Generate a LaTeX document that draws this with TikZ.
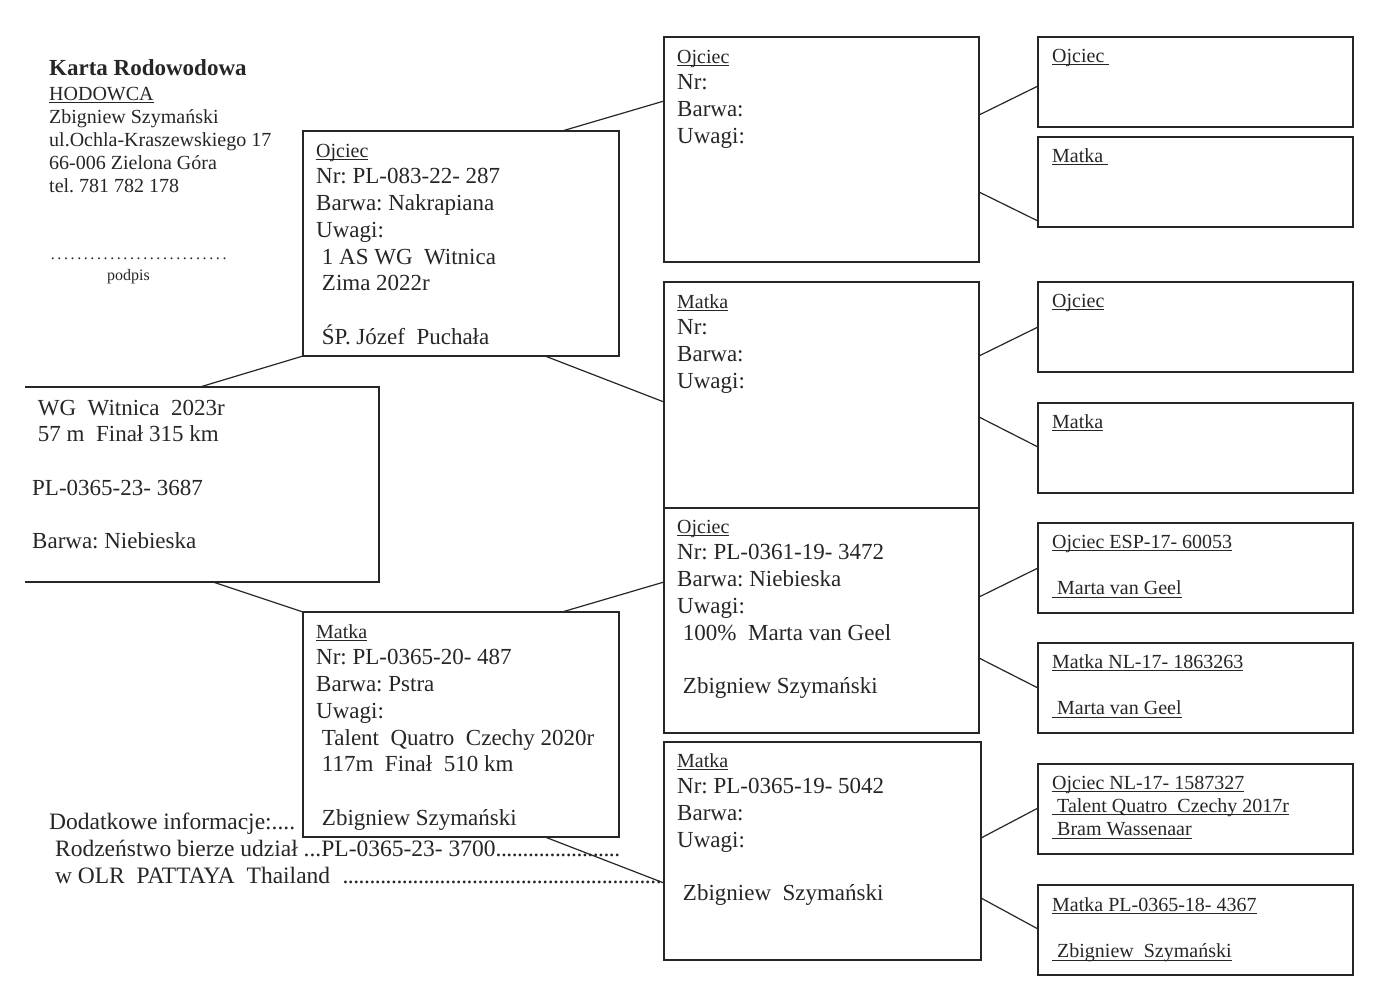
\documentclass[tikz,border=0pt]{standalone}
\usepackage{fontspec}
\setmainfont{Liberation Serif}
\frenchspacing
\newcommand\undl[1]{\setbox0=\hbox{#1}\rlap{\rule[-2.6pt]{\wd0}{0.9pt}}\box0}
\newcommand\dotrun[2]{\hbox to #1{\cleaders\hbox to #2{\hss.\hss}\hfill}}
\newcommand\dotfl[1]{\cleaders\hbox to #1{\hss.\hss}\hfill}
\colorlet{ink}{black!85}
\tikzset{
  box/.style={draw=ink, line width=1.3pt, fill=white, inner sep=0pt, outer sep=0pt, anchor=north west},
  ghost/.style={inner sep=0pt, outer sep=0pt, anchor=north west},
  txt/.style={anchor=north west, inner sep=0pt, align=left, text=ink, font=\fontsize{23}{26.7}\selectfont},
  small/.style={txt, font=\fontsize{20}{23.3}\selectfont},
  head/.style={txt, font=\fontsize{20}{23}\selectfont},
  conn/.style={draw=ink, line width=1.2pt},
}
\newcommand\ttl[1]{{\fontsize{20}{23}\selectfont\undl{#1}}}
\begin{document}
\begin{tikzpicture}[x=1pt,y=-1pt]
\useasboundingbox[fill=white] (0,0) rectangle (1400,989);

% header
\node[head] (hdr) at (49,50) {\rule{0pt}{25pt}{\bfseries\fontsize{23}{25}\selectfont Karta Rodowodowa}\\[2pt]
\undl{HODOWCA}\\
Zbigniew Szymański\\
ul.Ochla-Kraszewskiego 17\\
66-006 Zielona Góra\\
tel. 781 782 178};
\node[anchor=base west, inner sep=0pt, text=ink, font=\fontsize{16}{18}\selectfont] (sig) at (49,259) {\dotrun{179pt}{6.6pt}};
\node[anchor=base west, inner sep=0pt, text=ink, font=\fontsize{16}{18}\selectfont] (podpis) at (107,280) {podpis};

% additional info
\node[txt, font=\fontsize{23.5}{27}\selectfont] (info) at (49,807) {\rule{0pt}{22pt}\makebox[251pt][l]{Dodatkowe informacje:....}\\
\makebox[571pt][l]{\ Rodzeństwo bierze udział ...PL-0365-23- 3700\dotfl{5.4pt}}\\
\makebox[613pt][l]{\ w OLR\ \ PATTAYA\ \ Thailand\ \ \dotfl{5.4pt}}};

% subject
\node[ghost, minimum width=354pt, minimum height=195pt] (s) at (25,387) {};
\draw[conn] (s.north west) -- (s.north east) -- (s.south east) -- (s.south west);
\node[txt] (st) at ([xshift=7pt]s.north west) {\rule{0pt}{28pt}\ WG\ \ Witnica\ \ 2023r\\
\ 57 m\ \ Finał 315 km\\[26.7pt]
PL-0365-23- 3687\\[26.7pt]
Barwa: Niebieska};

% generation 1
\node[box, minimum width=316pt, minimum height=225pt] (f) at (303,131) {};
\node[txt] (ft) at ([xshift=13pt]f.north west) {\rule{0pt}{26pt}\ttl{Ojciec}\\
Nr: PL-083-22- 287\\
Barwa: Nakrapiana\\
Uwagi:\\
\ 1 AS WG\ \ Witnica\\
\ Zima 2022r\\[26.7pt]
\ ŚP. Józef\ \ Puchała};

\node[box, minimum width=316pt, minimum height=225pt] (m) at (303,612) {};
\node[txt] (mt) at ([xshift=13pt]m.north west) {\rule{0pt}{26pt}\ttl{Matka}\\
Nr: PL-0365-20- 487\\
Barwa: Pstra\\
Uwagi:\\
\ Talent\ \ Quatro\ \ Czechy 2020r\\
\ 117m\ \ Finał\ \ 510 km\\[26.7pt]
\ Zbigniew Szymański};

% generation 2
\node[box, minimum width=315pt, minimum height=225pt] (ff) at (664,37) {};
\node[txt] (fft) at ([xshift=13pt]ff.north west) {\rule{0pt}{26pt}\ttl{Ojciec}\\
Nr:\\
Barwa:\\
Uwagi:};

\node[box, minimum width=315pt, minimum height=226pt] (fm) at (664,282) {};
\node[txt] (fmt) at ([xshift=13pt]fm.north west) {\rule{0pt}{26pt}\ttl{Matka}\\
Nr:\\
Barwa:\\
Uwagi:};

\node[box, minimum width=315pt, minimum height=225pt] (mf) at (664,508) {};
\node[txt] (mft) at ([xshift=13pt]mf.north west) {\rule{0pt}{25pt}\ttl{Ojciec}\\
Nr: PL-0361-19- 3472\\
Barwa: Niebieska\\
Uwagi:\\
\ 100\%\ \ Marta van Geel\\[26.7pt]
\ Zbigniew Szymański};

\node[box, minimum width=317pt, minimum height=218pt] (mm) at (664,742) {};
\node[txt] (mmt) at ([xshift=13pt]mm.north west) {\rule{0pt}{25pt}\ttl{Matka}\\
Nr: PL-0365-19- 5042\\
Barwa:\\
Uwagi:\\[26.7pt]
\ Zbigniew\ \ Szymański};

% generation 3
\foreach \n/\y in {g1/37,g2/137,g3/282,g4/403,g5/523,g6/643,g7/764,g8/885}{
  \node[box, minimum width=315pt, minimum height=90pt] (\n) at (1038,\y) {};
}
\node[small] (g1t) at ([xshift=14pt]g1.north west) {\rule{0pt}{25pt}\undl{Ojciec\ }};
\node[small] (g2t) at ([xshift=14pt]g2.north west) {\rule{0pt}{25pt}\undl{Matka\ }};
\node[small] (g3t) at ([xshift=14pt]g3.north west) {\rule{0pt}{25pt}\undl{Ojciec}};
\node[small] (g4t) at ([xshift=14pt]g4.north west) {\rule{0pt}{25pt}\undl{Matka}};
\node[small] (g5t) at ([xshift=14pt]g5.north west) {\rule{0pt}{25pt}\undl{Ojciec ESP-17- 60053}\\[23.3pt]
\undl{\ Marta van Geel}};
\node[small] (g6t) at ([xshift=14pt]g6.north west) {\rule{0pt}{25pt}\undl{Matka NL-17- 1863263}\\[23.3pt]
\undl{\ Marta van Geel}};
\node[small] (g7t) at ([xshift=14pt]g7.north west) {\rule{0pt}{25pt}\undl{Ojciec NL-17- 1587327}\\
\undl{\ Talent Quatro\ \ Czechy 2017r}\\
\undl{\ Bram Wassenaar}};
\node[small] (g8t) at ([xshift=14pt]g8.north west) {\rule{0pt}{26pt}\undl{Matka PL-0365-18- 4367}\\[23.3pt]
\undl{\ Zbigniew\ \ Szymański}};

% connectors
\draw[conn] ([xshift=175pt]s.north west) -- (f.south west);
\draw[conn] ([xshift=188pt]s.south west) -- (m.north west);
\draw[conn] ([xshift=259pt]f.north west) -- ([yshift=-64pt]ff.north west);
\draw[conn] ([xshift=242pt]f.south west) -- ([yshift=-120pt]fm.north west);
\draw[conn] ([xshift=259pt]m.north west) -- ([yshift=-74pt]mf.north west);
\draw[conn] ([xshift=242pt]m.south west) -- ([yshift=-141pt]mm.north west);
\draw[conn] ([yshift=-78pt]ff.north east) -- ([yshift=-49pt]g1.north west);
\draw[conn] ([yshift=-155pt]ff.north east) -- ([yshift=-84pt]g2.north west);
\draw[conn] ([yshift=-74pt]fm.north east) -- ([yshift=-45pt]g3.north west);
\draw[conn] ([yshift=-135pt]fm.north east) -- ([yshift=-44pt]g4.north west);
\draw[conn] ([yshift=-89pt]mf.north east) -- ([yshift=-45pt]g5.north west);
\draw[conn] ([yshift=-150pt]mf.north east) -- ([yshift=-45pt]g6.north west);
\draw[conn] ([yshift=-96pt]mm.north east) -- ([yshift=-44pt]g7.north west);
\draw[conn] ([yshift=-156pt]mm.north east) -- ([yshift=-44pt]g8.north west);
\end{tikzpicture}
\end{document}
